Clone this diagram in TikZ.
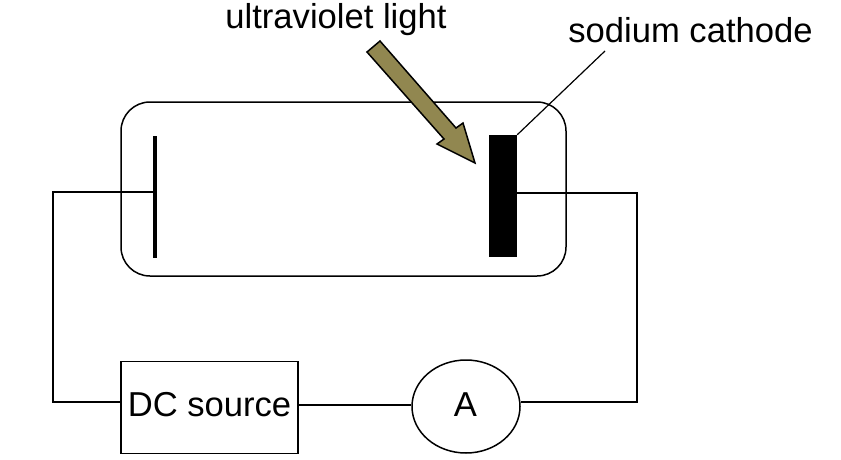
\documentclass[tikz,border=0pt]{standalone}
\usepackage{fontspec}
\usetikzlibrary{shapes.geometric}
\setmainfont{Liberation Sans}
\definecolor{arrowfill}{RGB}{145,135,80}
\tikzset{
  wire/.style={draw=black,line width=1.5pt},
  lbl/.style={inner sep=0pt,font=\fontsize{34.6}{40}\selectfont},
}
\begin{document}
\begin{tikzpicture}[x=1pt,y=-1pt]
\useasboundingbox (0,0) rectangle (841,459);
\node[draw=black,line width=1.5pt,rounded corners=29pt,minimum width=445pt,minimum height=174pt,inner sep=0pt] (tube) at (343.5,189) {};
\node[fill=black,minimum width=28pt,minimum height=122pt,inner sep=0pt] (cathode) at (503,196) {};
\coordinate (anodeTop) at (155.3,136);
\coordinate (anodeBot) at (155.3,258);
\coordinate (anodeMid) at (155.3,192);
\draw[black,line width=4pt] (anodeTop) -- (anodeBot);
\node[draw=black,line width=1.5pt,minimum width=177pt,minimum height=92pt,inner sep=0pt] (dc) at (209.5,407.5) {};
\node[lbl,anchor=base] (dctext) at (209.5,416) {DC source};
\node[draw=black,line width=1.5pt,ellipse,minimum width=108pt,minimum height=93pt,inner sep=0pt] (amm) at (466,406.5) {};
\node[lbl,anchor=base] (ammtext) at (465.5,416) {A};
\draw[wire] (anodeMid) -- (53,192) -- (53,402) -- (dc.west |- 0,402);
\draw[wire] (dc.east |- 0,405) -- (amm.west |- 0,405);
\draw[wire] (amm.east |- 0,402) -- (637,402) -- (637,193) -- (cathode.east |- 0,193);
\node[lbl,anchor=base] (uv) at (336,28) {ultraviolet light};
\node[lbl,anchor=base] (sc) at (690.5,42) {sodium cathode};
\coordinate (scEnd) at (605,51);
\draw[black,line width=1.2pt] (scEnd) -- (cathode.north east);
\fill[arrowfill,draw=black,line width=1.5pt,miter limit=10] (380,41) -- (367,52) -- (444,139) -- (437,144) -- (475,163) -- (463,123) -- (456,128) -- cycle;
\end{tikzpicture}
\end{document}
